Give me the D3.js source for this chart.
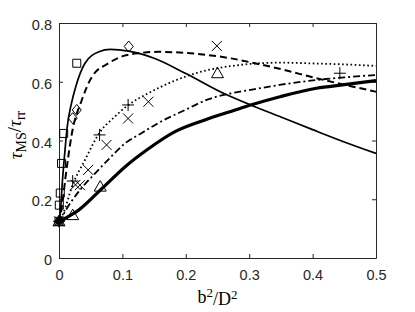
<!DOCTYPE html>
<html><head><meta charset="utf-8">
<script src="https://cdn.jsdelivr.net/npm/d3@7"></script>
<style>body{margin:0;background:#fff}svg{display:block}</style>
</head><body><svg id="c" width="415" height="312"></svg>
<script>
// ---------- data ----------
const xTicks = [0, 0.1, 0.2, 0.3, 0.4, 0.5];
const yTicks = [0, 0.2, 0.4, 0.6, 0.8];

// thin solid
const thinX = [0, 0.002, 0.005, 0.01, 0.0126, 0.02, 0.026, 0.041, 0.063, 0.081, 0.11, 0.15, 0.2, 0.262, 0.309, 0.35, 0.4, 0.45, 0.5];
const thinY = [0.12, 0.15, 0.25, 0.38, 0.44, 0.53, 0.58, 0.663, 0.702, 0.71, 0.704, 0.68, 0.628, 0.558, 0.515, 0.48, 0.437, 0.395, 0.356];
// dashed
const dashX = [0, 0.005, 0.01, 0.015, 0.02, 0.036, 0.052, 0.078, 0.102, 0.13, 0.157, 0.2, 0.235, 0.27, 0.309, 0.35, 0.406, 0.45, 0.5];
const dashY = [0.12, 0.18, 0.27, 0.35, 0.42, 0.538, 0.617, 0.663, 0.688, 0.698, 0.702, 0.698, 0.691, 0.68, 0.663, 0.643, 0.612, 0.59, 0.566];
// dotted
const dotX = [0, 0.0074, 0.0205, 0.041, 0.065, 0.085, 0.11, 0.14, 0.167, 0.2, 0.235, 0.27, 0.309, 0.35, 0.406, 0.45, 0.5];
const dotY = [0.12, 0.155, 0.243, 0.334, 0.43, 0.475, 0.522, 0.56, 0.589, 0.618, 0.64, 0.653, 0.662, 0.665, 0.662, 0.659, 0.654];
// dash-dot
const ddX = [0, 0.01, 0.031, 0.057, 0.08, 0.104, 0.13, 0.157, 0.2, 0.235, 0.27, 0.309, 0.35, 0.406, 0.45, 0.5];
const ddY = [0.12, 0.16, 0.226, 0.288, 0.34, 0.39, 0.425, 0.46, 0.505, 0.54, 0.56, 0.575, 0.59, 0.606, 0.615, 0.623];
// thick solid
const thickX = [0, 0.01, 0.031, 0.068, 0.104, 0.14, 0.183, 0.23, 0.278, 0.301, 0.35, 0.406, 0.45, 0.5];
const thickY = [0.12, 0.135, 0.163, 0.237, 0.31, 0.37, 0.43, 0.47, 0.504, 0.52, 0.55, 0.578, 0.59, 0.604];

// markers
const squareX = [0, 0.0005, 0.002, 0.004, 0.0074, 0.028];
const squareY = [0.125, 0.18, 0.221, 0.322, 0.424, 0.663];
const diamondX = [0, 0.0216, 0.028, 0.11];
const diamondY = [0.125, 0.476, 0.504, 0.72];
const crossX = [0, 0.026, 0.033, 0.046, 0.075, 0.109, 0.141, 0.249];
const crossY = [0.125, 0.249, 0.248, 0.30, 0.385, 0.475, 0.532, 0.722];
const plusX = [0, 0.0216, 0.064, 0.109, 0.443];
const plusY = [0.125, 0.262, 0.419, 0.521, 0.629];
const triX = [0, 0.0216, 0.065, 0.25];
const triY = [0.125, 0.146, 0.243, 0.629];
const dotMarkX = [0];
const dotMarkY = [0.125];

// ---------- chart ----------
const W = 415, H = 312;
const m = {l: 59, t: 23, r: 39, b: 54};
const svg = d3.select("#c");
const x = d3.scaleLinear([0, 0.5], [m.l, W - m.r]);
const y = d3.scaleLinear([0, 0.8], [H - m.b, m.t]);
const axisColor = "#262626";
const tickFont = "'Liberation Sans', Arial, sans-serif";
const serif = "'Liberation Serif', 'Times New Roman', serif";

// axes
const gB = svg.append("g").attr("transform", `translate(0,${H - m.b})`)
  .call(d3.axisBottom(x).tickValues(xTicks).tickFormat(d3.format("")).tickSizeInner(-4).tickSizeOuter(0).tickPadding(12));
const gL = svg.append("g").attr("transform", `translate(${m.l},0)`)
  .call(d3.axisLeft(y).tickValues(yTicks).tickFormat(d3.format("")).tickSizeInner(-4).tickSizeOuter(0).tickPadding(7));
const gT = svg.append("g").attr("transform", `translate(0,${m.t})`)
  .call(d3.axisTop(x).tickValues(xTicks).tickFormat("").tickSizeInner(-4).tickSizeOuter(0));
const gR = svg.append("g").attr("transform", `translate(${W - m.r},0)`)
  .call(d3.axisRight(y).tickValues(yTicks).tickFormat("").tickSizeInner(-4).tickSizeOuter(0));
[gB, gL, gT, gR].forEach(g => {
  g.select(".domain").attr("stroke", axisColor).attr("stroke-width", 1);
  g.selectAll(".tick line").attr("stroke", axisColor).attr("stroke-width", 1);
  g.selectAll(".tick text").attr("fill", axisColor).style("font-family", tickFont).style("font-size", "14.5px");
});
gL.selectAll(".tick text").attr("dy", "0.45em");

// curves
const line = d3.line().x(d => x(d[0])).y(d => y(d[1])).curve(d3.curveMonotoneX);
const zip = (a, b) => a.map((v, i) => [v, b[i]]);
const curves = [
  {X: thinX, Y: thinY, w: 1.7, dash: null},
  {X: dashX, Y: dashY, w: 2, dash: "7,4"},
  {X: dotX, Y: dotY, w: 1.8, dash: "1.6,2.6"},
  {X: ddX, Y: ddY, w: 1.8, dash: "7,3,2,3"},
  {X: thickX, Y: thickY, w: 3.2, dash: null}
];
svg.append("g").selectAll("path").data(curves).join("path")
  .attr("d", c => line(zip(c.X, c.Y)))
  .attr("fill", "none").attr("stroke", "#000")
  .attr("stroke-width", c => c.w)
  .attr("stroke-dasharray", c => c.dash);

// markers
const shapes = {
  square: () => `M-4,-4h8v8h-8Z`,
  diamond: () => `M0,-5.5L4.5,0L0,5.5L-4.5,0Z`,
  cross: () => `M-5,-5L5,5M-5,5L5,-5`,
  plus: () => `M-6,0H6M0,-6V6`,
  tri: () => `M0,-6L6,4.5H-6Z`
};
const markerSets = [
  {X: squareX, Y: squareY, p: shapes.square},
  {X: diamondX, Y: diamondY, p: shapes.diamond},
  {X: crossX, Y: crossY, p: shapes.cross},
  {X: plusX, Y: plusY, p: shapes.plus},
  {X: triX, Y: triY, p: shapes.tri}
];
const gm = svg.append("g");
markerSets.forEach(ms => {
  gm.append("g").selectAll("path").data(zip(ms.X, ms.Y)).join("path")
    .attr("transform", d => `translate(${x(d[0])},${y(d[1])})`)
    .attr("d", ms.p())
    .attr("fill", "none").attr("stroke", "#000").attr("stroke-width", 1);
});
gm.append("g").selectAll("circle").data(zip(dotMarkX, dotMarkY)).join("circle")
  .attr("cx", d => x(d[0])).attr("cy", d => y(d[1])).attr("r", 3.5).attr("fill", "#000");

// axis labels
const xl = svg.append("text").attr("x", (m.l + W - m.r) / 2).attr("y", 303)
  .attr("text-anchor", "middle").style("font-family", serif).style("font-size", "18px").attr("fill", "#000");
xl.append("tspan").text("b");
xl.append("tspan").attr("dy", "-0.45em").style("font-size", "13px").text("2");
xl.append("tspan").attr("dy", "0.45em").text("/D");
xl.append("tspan").attr("dy", "-0.45em").style("font-size", "13px").text("2");

const yl = svg.append("text").attr("transform", `translate(22,135) rotate(-90)`)
  .attr("text-anchor", "middle").style("font-family", serif).style("font-size", "19px").attr("fill", "#000");
yl.append("tspan").style("font-style", "italic").text("τ");
yl.append("tspan").attr("dy", "0.3em").style("font-size", "14px").text("MS");
yl.append("tspan").attr("dy", "-0.3em").text("/");
yl.append("tspan").style("font-style", "italic").text("τ");
yl.append("tspan").attr("dy", "0.3em").style("font-size", "14px").text("rr");
</script>
</body></html>
